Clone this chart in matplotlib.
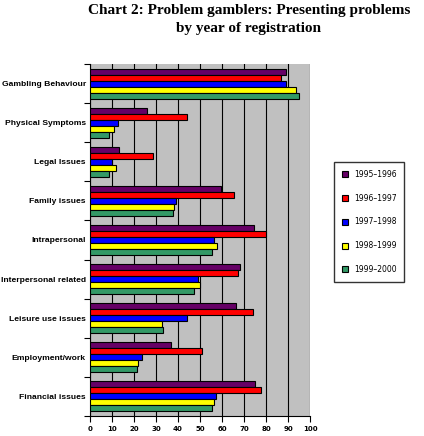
import numpy as np
import matplotlib
matplotlib.use("Agg")
import matplotlib.pyplot as plt

categories = ["Gambling Behaviour", "Physical Symptoms", "Legal Issues", "Family issues",
              "Intrapersonal", "Interpersonal related", "Leisure use issues",
              "Employment/work", "Financial issues"]
years = ["1995\u20131996", "1996\u20131997", "1997\u20131998", "1998\u20131999", "1999\u20132000"]
y1995 = [89.3, 26.1, 13.4, 59.4, 74.4, 68.0, 66.2, 37.0, 74.9]
y1996 = [86.6, 44.3, 28.8, 65.3, 79.9, 67.1, 73.9, 50.7, 77.6]
y1997 = [89.0, 12.9, 10.0, 38.9, 56.2, 49.3, 43.9, 23.8, 57.1]
y1998 = [93.8, 11.1, 11.8, 38.4, 57.5, 49.8, 32.5, 22.0, 56.2]
y1999 = [94.9, 8.8, 8.8, 37.9, 55.3, 47.1, 33.4, 21.5, 55.3]
colors = ["#660066", "#FF0000", "#0000FF", "#FFFF00", "#339966"]

series = [y1995, y1996, y1997, y1998, y1999]

fig = plt.figure(figsize=(4.24, 4.36), dpi=100)
ax = fig.add_axes([90 / 424, 20 / 436, 220 / 424, 352 / 436])
ax.set_facecolor("#C0C0C0")

n = len(categories)
pos = np.arange(n)
h = 0.153
for i, (vals, c) in enumerate(zip(series, colors)):
    ax.barh(pos + (i - 2) * h, vals, height=h, color=c, edgecolor="black",
            linewidth=0.8, label=years[i], zorder=3)

ax.set_xlim(0, 100)
ax.set_ylim(n - 0.5, -0.5)
ax.set_xticks(range(0, 101, 10))
ax.set_xticklabels([str(v) for v in range(0, 101, 10)], fontsize=5, fontweight="bold")
ax.xaxis.grid(True, color="black", linewidth=0.8, zorder=1)
ax.set_axisbelow(True)

ax.set_yticks(np.arange(-0.5, n, 1.0))
ax.set_yticklabels([])
ax.set_yticks(pos, minor=True)
ax.set_yticklabels(categories, minor=True, fontsize=6.1, fontweight="bold",
                   family="Liberation Sans")
ax.tick_params(axis="y", which="minor", length=0, pad=3)
ax.tick_params(axis="y", which="major", length=4, direction="out")
ax.tick_params(axis="x", length=4, direction="out")

for s in ["top", "right"]:
    ax.spines[s].set_visible(False)

fig.text(0.587, 0.99, "Chart 2: Problem gamblers: Presenting problems\nby year of registration",
         ha="center", va="top", fontsize=11, fontweight="bold", family="Liberation Serif",
         linespacing=1.45)

leg = fig.legend(loc="center", bbox_to_anchor=(369 / 424, 1 - 222 / 436), frameon=True,
                 fontsize=5.5, handlelength=0.8, handleheight=0.8, labelspacing=1.93,
                 borderpad=1.0, fancybox=False, edgecolor="black")
leg.get_frame().set_linewidth(1.0)

fig.savefig("out.png", dpi=100)
